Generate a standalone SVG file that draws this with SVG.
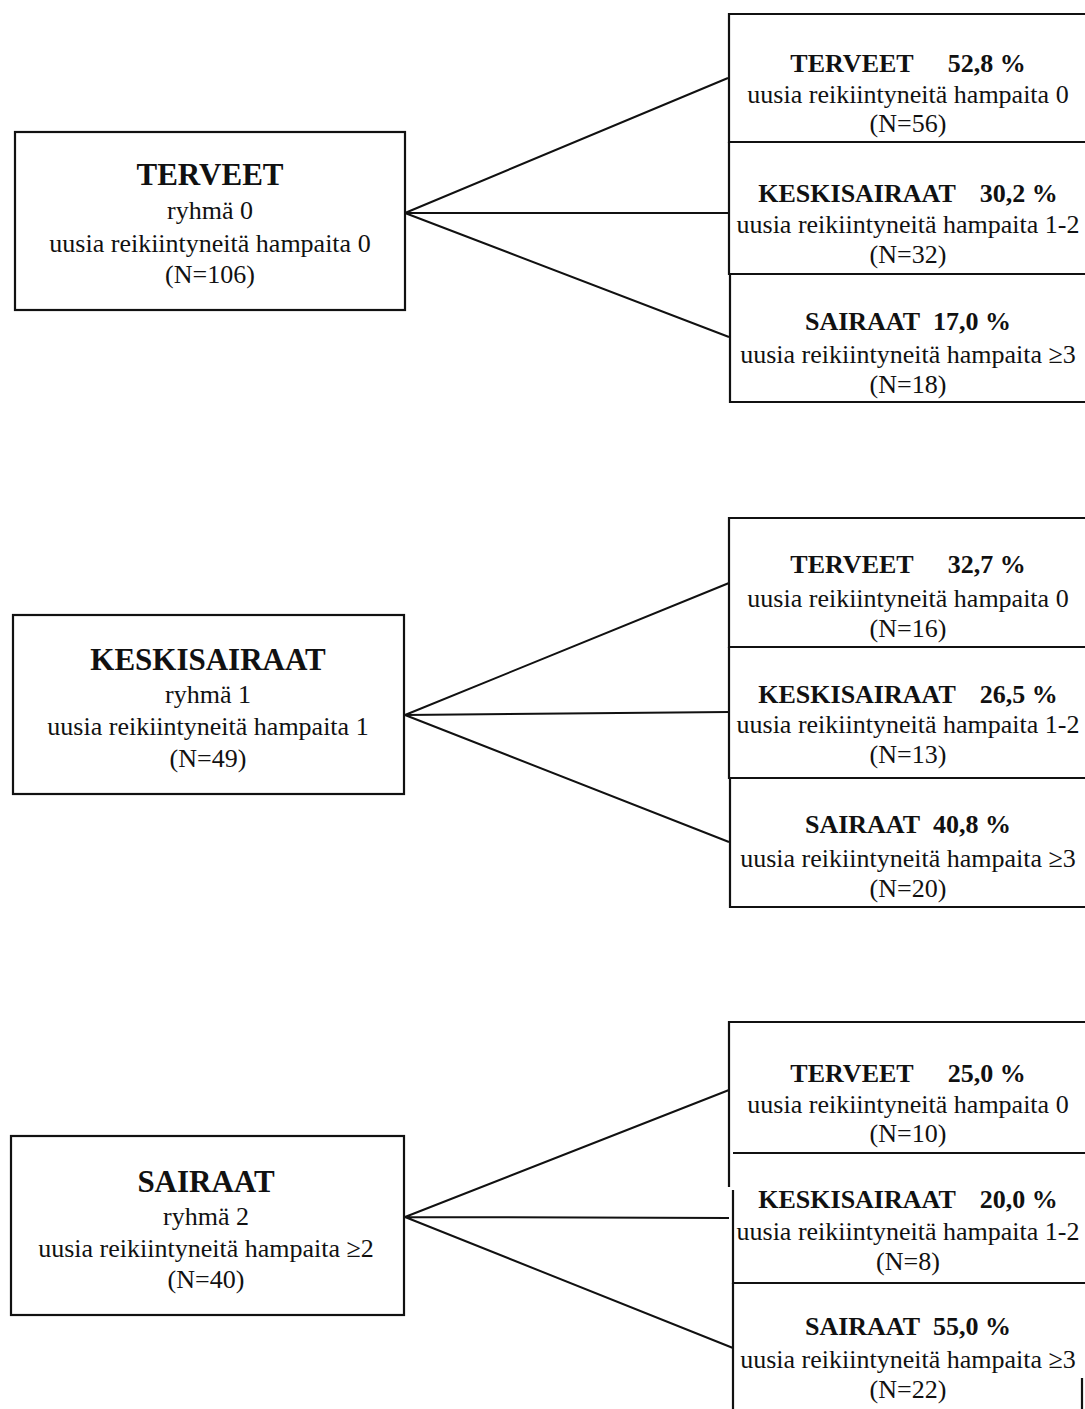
<svg xmlns="http://www.w3.org/2000/svg" width="1085" height="1409" viewBox="0 0 1085 1409">
<style>
.bx{fill:none;stroke:#111;stroke-width:2.2}
.cn{fill:none;stroke:#111;stroke-width:2}
text{font-family:"Liberation Serif","Times New Roman",serif;fill:#111;text-anchor:middle}
.t{font-size:31px;font-weight:bold}
.h{font-size:26px;font-weight:bold}
.r{font-size:26px}
</style>
<rect width="1085" height="1409" fill="#fff"/>
<g id="connectors">
<path class="cn" d="M405,213 L728,78 M405,213 L729,213 M405,213 L729,337"/>
<path class="cn" d="M405,715 L729,583 M405,715 L729,712 M405,715 L729,842"/>
<path class="cn" d="M405,1217 L729,1090 M405,1217 L729,1218 M405,1217 L733,1348"/>
</g>
<g id="g0">
<rect class="bx" x="15" y="132" width="390" height="178"/>
<text class="t" x="210" y="185">TERVEET</text>
<text class="r" x="210" y="219">ryhmä 0</text>
<text class="r" x="210" y="252">uusia reikiintyneitä hampaita 0</text>
<text class="r" x="210" y="283">(N=106)</text>
</g>
<g id="g0-terveet">
<path class="bx" d="M1090,14 L729,14 L729,142 L1090,142"/>
<text class="h" x="908" y="72">TERVEET<tspan dx="34">52,8 %</tspan></text>
<text class="r" x="908" y="103">uusia reikiintyneitä hampaita 0</text>
<text class="r" x="908" y="132">(N=56)</text>
</g>
<g id="g0-keski">
<path class="bx" d="M729,142 L729,274 L1090,274"/>
<text class="h" x="908" y="202">KESKISAIRAAT<tspan dx="24">30,2 %</tspan></text>
<text class="r" x="908" y="233">uusia reikiintyneitä hampaita 1-2</text>
<text class="r" x="908" y="263">(N=32)</text>
</g>
<g id="g0-sairaat">
<path class="bx" d="M730,274 L730,402 L1090,402"/>
<text class="h" x="908" y="330">SAIRAAT<tspan dx="13">17,0 %</tspan></text>
<text class="r" x="908" y="363">uusia reikiintyneitä hampaita ≥3</text>
<text class="r" x="908" y="393">(N=18)</text>
</g>
<g id="g1">
<rect class="bx" x="13" y="615" width="391" height="179"/>
<text class="t" x="208" y="670">KESKISAIRAAT</text>
<text class="r" x="208" y="703">ryhmä 1</text>
<text class="r" x="208" y="735">uusia reikiintyneitä hampaita 1</text>
<text class="r" x="208" y="767">(N=49)</text>
</g>
<g id="g1-terveet">
<path class="bx" d="M1090,518 L729,518 L729,647 L1090,647"/>
<text class="h" x="908" y="573">TERVEET<tspan dx="34">32,7 %</tspan></text>
<text class="r" x="908" y="607">uusia reikiintyneitä hampaita 0</text>
<text class="r" x="908" y="637">(N=16)</text>
</g>
<g id="g1-keski">
<path class="bx" d="M729,647 L729,778 L1090,778"/>
<text class="h" x="908" y="703">KESKISAIRAAT<tspan dx="24">26,5 %</tspan></text>
<text class="r" x="908" y="733">uusia reikiintyneitä hampaita 1-2</text>
<text class="r" x="908" y="763">(N=13)</text>
</g>
<g id="g1-sairaat">
<path class="bx" d="M730,778 L730,907 L1090,907"/>
<text class="h" x="908" y="833">SAIRAAT<tspan dx="13">40,8 %</tspan></text>
<text class="r" x="908" y="867">uusia reikiintyneitä hampaita ≥3</text>
<text class="r" x="908" y="897">(N=20)</text>
</g>
<g id="g2">
<rect class="bx" x="11" y="1136" width="393" height="179"/>
<text class="t" x="206" y="1192">SAIRAAT</text>
<text class="r" x="206" y="1225">ryhmä 2</text>
<text class="r" x="206" y="1257">uusia reikiintyneitä hampaita ≥2</text>
<text class="r" x="206" y="1288">(N=40)</text>
</g>
<g id="g2-terveet">
<path class="bx" d="M1090,1022 L729,1022 L729,1187 M733,1153 L1090,1153"/>
<text class="h" x="908" y="1082">TERVEET<tspan dx="34">25,0 %</tspan></text>
<text class="r" x="908" y="1113">uusia reikiintyneitä hampaita 0</text>
<text class="r" x="908" y="1142">(N=10)</text>
</g>
<g id="g2-keski">
<path class="bx" d="M733,1190 L733,1283 L1090,1283"/>
<text class="h" x="908" y="1208">KESKISAIRAAT<tspan dx="24">20,0 %</tspan></text>
<text class="r" x="908" y="1240">uusia reikiintyneitä hampaita 1-2</text>
<text class="r" x="908" y="1270">(N=8)</text>
</g>
<g id="g2-sairaat">
<path class="bx" d="M733,1283 L733,1410 M1082,1378 L1082,1410"/>
<text class="h" x="908" y="1335">SAIRAAT<tspan dx="13">55,0 %</tspan></text>
<text class="r" x="908" y="1368">uusia reikiintyneitä hampaita ≥3</text>
<text class="r" x="908" y="1398">(N=22)</text>
</g>
</svg>
